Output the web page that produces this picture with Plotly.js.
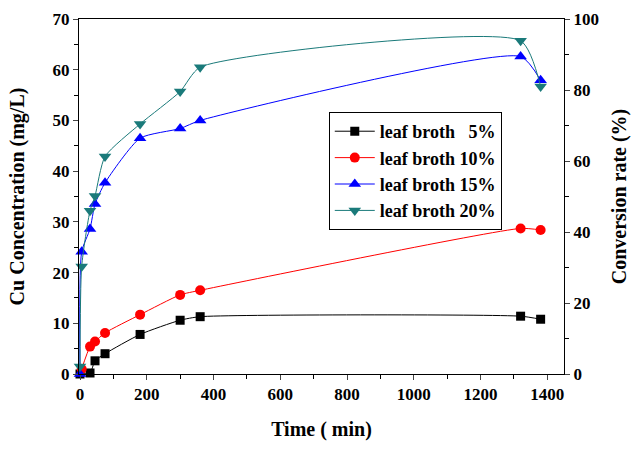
<!DOCTYPE html>
<html>
<head>
<meta charset="utf-8">
<script src="https://cdn.plot.ly/plotly-3.0.1.min.js"></script>
<style>html,body{margin:0;padding:0;background:#fff;}#chart{width:639px;height:449px;}</style>
</head>
<body>
<div id="chart"></div>
<script>
// Data (Time in min, Cu concentration in mg/L)
const time5  = [0, 30, 45, 75, 180, 300, 360, 1320, 1380];
const cu5    = [0, 0.2, 2.6, 4.0, 7.8, 10.6, 11.3, 11.4, 10.8];
const time10 = [5, 30, 45, 75, 180, 300, 360, 1320, 1380];
const cu10   = [1.0, 5.4, 6.4, 8.1, 11.7, 15.6, 16.5, 28.7, 28.4];
const time15 = [0, 5, 30, 45, 75, 180, 300, 360, 1320, 1380];
const cu15   = [0, 24.1, 28.6, 33.5, 37.7, 46.5, 48.4, 50.0, 62.6, 57.9];
const time20 = [0, 5, 30, 45, 75, 180, 300, 360, 1320, 1380];
const cu20   = [1.5, 21.2, 32.2, 35.1, 42.9, 49.3, 55.7, 60.5, 65.7, 56.7];
const seriesNames = ["leaf broth\u00a0\u00a0 5%", "leaf broth 10%", "leaf broth 15%", "leaf broth 20%"];
const xTicks = [0, 200, 400, 600, 800, 1000, 1200, 1400];

const FONT = "'Liberation Serif'";
function tr(x, y, name, color, symbol, size) {
  return {
    x: x, y: y, name: name, type: 'scatter', mode: 'lines+markers',
    line: {color: color, width: 1, shape: 'spline', smoothing: 0.6},
    marker: {color: color, symbol: symbol, size: size},
    cliponaxis: false
  };
}
const data = [
  tr(time5, cu5, seriesNames[0], '#000000', 'square', 9),
  tr(time10, cu10, seriesNames[1], '#ff0000', 'circle', 10),
  tr(time15, cu15, seriesNames[2], '#0000ff', 'triangle-up', 11),
  tr(time20, cu20, seriesNames[3], '#1a7a7a', 'triangle-down', 11),
  {x: [null], y: [null], yaxis: 'y2', showlegend: false, hoverinfo: 'skip', type: 'scatter', mode: 'markers'}
];

const layout = {
  width: 639, height: 449,
  margin: {l: 79, r: 75, t: 19, b: 75},
  paper_bgcolor: '#fff', plot_bgcolor: '#fff',
  font: {family: FONT, size: 17, color: '#000', weight: 'bold'},
  showlegend: true,
  legend: {
    x: 0.515, y: 0.738, xanchor: 'left', yanchor: 'top',
    bordercolor: '#000', borderwidth: 1, bgcolor: '#fff',
    font: {family: FONT, size: 18, color: '#000', weight: 'bold'},
    itemwidth: 40,
    tracegroupgap: 0
  },
  xaxis: {
    range: [-3, 1450], tickvals: xTicks, ticks: 'outside', ticklen: 5, tickwidth: 1,
    minor: {dtick: 100, tick0: 0, ticks: 'outside', ticklen: 4, tickwidth: 1, tickcolor: '#000'},
    showline: true, linecolor: '#000', linewidth: 1, mirror: true,
    showgrid: false, zeroline: false,
    tickfont: {family: FONT, size: 17, weight: 'bold'},
    title: {text: 'Time ( min)', font: {family: FONT, size: 20, weight: 'bold'}, standoff: 18}
  },
  yaxis: {
    range: [0, 70], dtick: 10, ticks: 'outside', ticklen: 5, tickwidth: 1,
    minor: {dtick: 5, ticks: 'outside', ticklen: 4, tickwidth: 1, tickcolor: '#000'},
    showline: true, linecolor: '#000', linewidth: 1,
    showgrid: false, zeroline: false,
    tickfont: {family: FONT, size: 17, weight: 'bold'},
    title: {text: 'Cu Concentration (mg/L)', font: {family: FONT, size: 20, weight: 'bold'}, standoff: 22}
  },
  yaxis2: {
    overlaying: 'y', side: 'right', range: [0, 100], dtick: 20,
    ticks: 'outside', ticklen: 5, tickwidth: 1,
    minor: {dtick: 10, ticks: 'outside', ticklen: 4, tickwidth: 1, tickcolor: '#000'},
    showline: true, linecolor: '#000', linewidth: 1,
    showgrid: false, zeroline: false,
    tickfont: {family: FONT, size: 17, weight: 'bold'},
    title: {text: 'Conversion rate (%)', font: {family: FONT, size: 20, weight: 'bold'}, standoff: 14}
  }
};
Plotly.newPlot('chart', data, layout, {displayModeBar: false, staticPlot: true});
</script>
</body>
</html>
